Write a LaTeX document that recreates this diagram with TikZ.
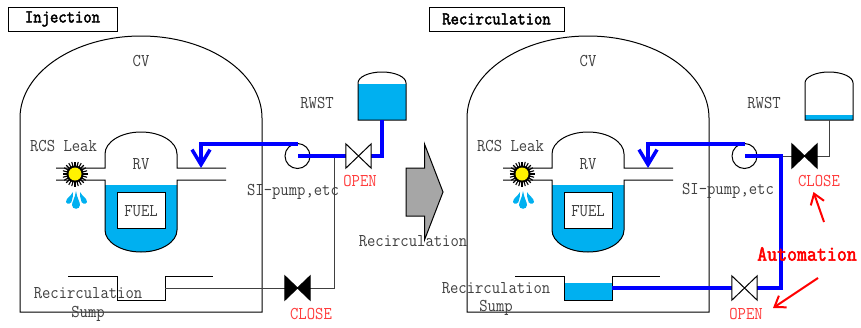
\documentclass[tikz,border=0pt]{standalone}
\usepackage{fontspec}
\setmonofont[FakeStretch=0.9]{Latin Modern Mono}
\newfontfamily\boldtt[FakeStretch=0.9,FakeBold=2.5]{Latin Modern Mono}
\usetikzlibrary{arrows.meta}
\definecolor{water}{HTML}{00B0F0}
\definecolor{ink}{HTML}{404040}
\definecolor{alert}{HTML}{FF3B3B}
\tikzset{
  x=1pt,y=-1pt,
  wall/.style={draw=black,line width=1pt},
  pipe/.style={draw=ink,line width=1pt},
  flow/.style={draw=blue,line width=3.5pt},
  flowtip/.style={draw=blue,line width=3.5pt,-{Straight Barb[length=15pt,width=18pt,line width=3.5pt]}},
  lbl/.style={font=\ttfamily\fontsize{18}{18}\selectfont,text=ink,inner sep=0pt},
  redlbl/.style={font=\ttfamily\fontsize{18}{18}\selectfont,text=alert,inner sep=0pt},
  ttl/.style={font=\boldtt\fontsize{18}{18}\selectfont,text=black,inner sep=0pt},
  ttlbox/.style={draw=black,line width=1pt,inner sep=0pt},
  pumpnode/.style={circle,draw=black,line width=1pt,minimum size=25pt,inner sep=0pt},
  valvebox/.style={inner sep=0pt,minimum width=25pt,minimum height=24pt},
  redarrow/.style={draw=red,line width=2pt,-{Straight Barb[length=10pt,width=14pt,line width=2pt]}},
}
\newcommand{\valveshape}[2]{\draw[draw=black,line width=1pt,fill=#2,line join=miter] (#1.north west)--(#1.south east)--(#1.north east)--(#1.south west)--cycle;}
\newcommand{\containment}[1]{%
  \begin{scope}[xshift=#1pt]
    % containment vessel
    \draw[wall] (20,312)--(20,118) arc[start angle=180,end angle=360,x radius=121,y radius=82]--(262,312)--cycle;
    % reactor vessel water
    \fill[water] (105,185)--(105,230) arc[start angle=180,end angle=0,x radius=36,y radius=22]--(177,185)--cycle;
    % reactor vessel
    \draw[wall] (56,168)--(105,168)--(105,154) arc[start angle=180,end angle=360,x radius=36,y radius=22]--(177,168)--(226,168);
    \draw[wall] (56,180)--(105,180)--(105,230) arc[start angle=180,end angle=0,x radius=36,y radius=22]--(177,180)--(226,180);
    \draw[wall,fill=white] (117,192) rectangle (165,228);
    % leak
    \foreach \a in {0,15,...,345}{\draw[black,line width=1.1pt] (75,174)--++(\a:12.5);}
    \fill[black] (75,174) circle (8.5);
    \fill[yellow] (75,174) circle (6.5);
    % drops
    \fill[water] (76,191) .. controls (77,198) and (80,202) .. (80,205) .. controls (80,210) and (72,210) .. (72,205) .. controls (72,202) and (75,198) .. (76,191)--cycle;
    \fill[water] (73,192) .. controls (71,196) and (66,198) .. (66,202) .. controls (67,205) and (72,204) .. (72,200) .. controls (73,198) and (73,195) .. (73,192)--cycle;
    \fill[water] (80,192) .. controls (82,196) and (87,198) .. (87,202) .. controls (86,205) and (81,204) .. (81,200) .. controls (80,198) and (80,195) .. (80,192)--cycle;
    % labels
    \node[lbl] (cv#1) at (141,61) {CV};
    \node[lbl] (rv#1) at (141,164) {RV};
    \node[lbl] (fuel#1) at (141,211) {FUEL};
    \node[lbl] (leak#1) at (63.5,146) {RCS Leak};
  \end{scope}}
\begin{document}
\begin{tikzpicture}
\useasboundingbox (0,0) rectangle (861,327);
\containment{0}
\containment{447}

% titles
\node[ttlbox,minimum width=109pt,minimum height=24pt] (titleA) at (62.5,19) {};
\node[ttl] at (titleA) {Injection};
\node[ttlbox,minimum width=135pt,minimum height=24pt] (titleB) at (496.5,19) {};
\node[ttl] at (titleB) {Recirculation};

% ---- left plant
\fill[water] (358,84) rectangle (406,120);
\draw[wall] (358,120)--(358,83) arc[start angle=180,end angle=360,x radius=24,y radius=11]--(406,120)--cycle;
\coordinate (tankA) at (382,120);
\draw[wall] (68,276)--(117,276)--(117,300)--(165,300)--(165,276)--(213,276);
\coordinate (sumpA) at (165,288);
\node[pumpnode] (pumpA) at (297.5,156) {};
\node[valvebox] (vOpenA) at (358.5,156) {};
\node[valvebox] (vCloseA) at (297.5,288) {};
\coordinate (junctionA) at (334,156);
\coordinate (cornerA) at (334,288);
\coordinate (inA) at (201,168);
\coordinate (pumpOutA) at (297.5,144);
\coordinate (tankCornerA) at (382,156);
\draw[pipe] (sumpA)--(vCloseA.west);
\draw[pipe] (vCloseA.east)--(cornerA)--(junctionA);
\draw[flow,line join=miter] (tankA)--(tankCornerA)--(vOpenA.east);
\draw[flow] (vOpenA.west)--(pumpA.center);
\draw[flowtip] (pumpOutA)--(201,144)--(inA);
\valveshape{vOpenA}{white}
\valveshape{vCloseA}{black}

\node[lbl] at (317,103) {RWST};
\node[lbl] at (293,192) {SI-pump,etc};
\node[redlbl] at (360,181) {OPEN};
\node[redlbl] at (311,314) {CLOSE};
\node[lbl] at (88,293) {Recirculation};
\node[lbl] at (88,314) {Sump};

% transfer arrow
\draw[draw=black,line width=1pt,fill=black!35] (406,168)--(424.5,168)--(424.5,144)--(443,192)--(424.5,240)--(424.5,216)--(406,216)--cycle;
\node[lbl] at (413,241) {Recirculation};

% ---- right plant
\fill[water] (805,115) rectangle (853,120);
\draw[wall] (805,120)--(805,83) arc[start angle=180,end angle=360,x radius=24,y radius=11]--(853,120)--cycle;
\coordinate (tankB) at (829,120);
\fill[water] (564,283) rectangle (612,300);
\draw[wall] (515,276)--(564,276)--(564,300)--(612,300)--(612,276)--(660,276);
\coordinate (sumpB) at (612,288);
\node[pumpnode] (pumpB) at (744.5,156) {};
\node[valvebox] (vCloseB) at (804.5,156) {};
\node[valvebox] (vOpenB) at (744.5,288) {};
\coordinate (cornerB) at (781,288);
\coordinate (junctionB) at (781,156);
\coordinate (inB) at (648,168);
\coordinate (pumpOutB) at (744.5,144);
\coordinate (tankCornerB) at (829,156);
\draw[pipe] (tankB)--(tankCornerB)--(vCloseB.east);
\draw[pipe] (vCloseB.west)--(junctionB);
\draw[flow] (sumpB)--(vOpenB.west);
\draw[flow,line join=miter] (vOpenB.east)--(cornerB)--(junctionB)--(pumpB.center);
\draw[flowtip] (pumpOutB)--(648,144)--(inB);
\valveshape{vOpenB}{white}
\valveshape{vCloseB}{black}

\node[lbl] at (764,103) {RWST};
\node[lbl] at (728,191) {SI-pump,etc};
\node[redlbl] (closeB) at (819,181) {CLOSE};
\node[redlbl] (openB) at (746,314) {OPEN};
\node[lbl] at (496,288) {Recirculation};
\node[lbl] at (496,308) {Sump};
\node[font=\boldtt\fontsize{21.5}{22}\selectfont,text=red,inner sep=0pt] (auto) at (807,254) {Automation};
\coordinate (autoUp) at (824,222);
\coordinate (autoDown) at (818,278);
\coordinate (tipUp) at (813.5,192);
\coordinate (tipDown) at (773,308);
\draw[redarrow] (autoUp)--(tipUp);
\draw[redarrow] (autoDown)--(tipDown);
\end{tikzpicture}
\end{document}
